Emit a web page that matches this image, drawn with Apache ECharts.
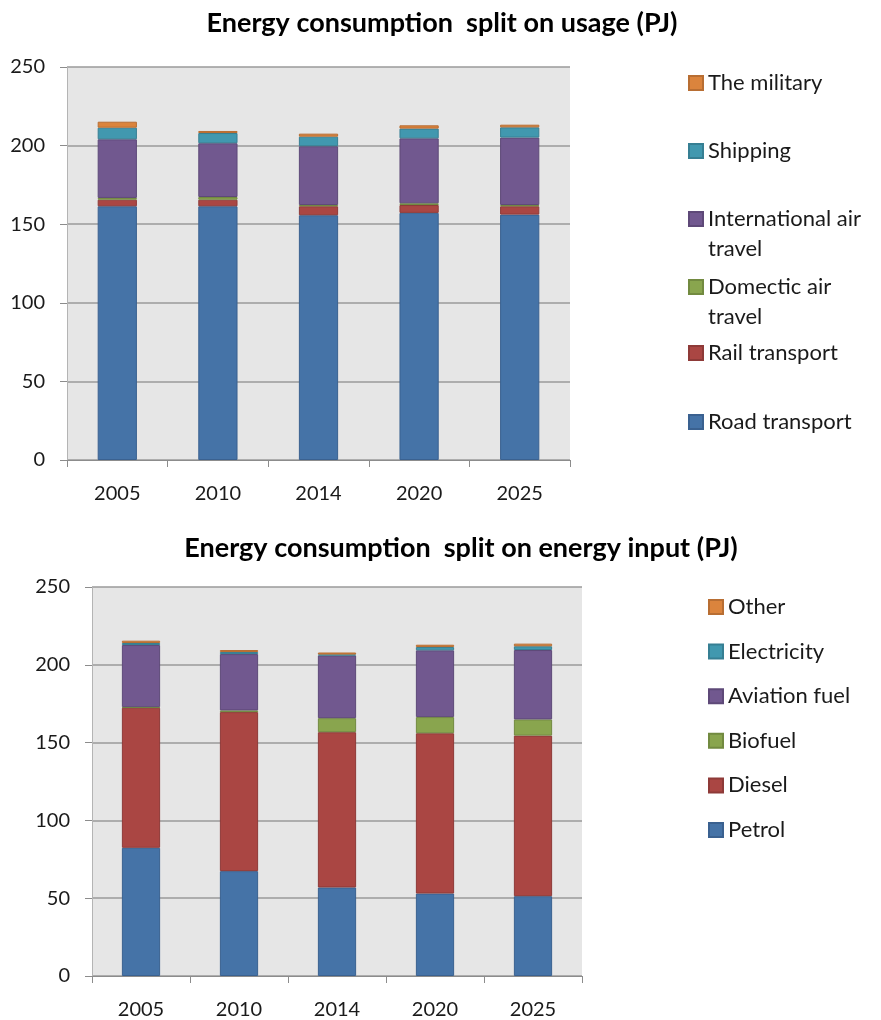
<!DOCTYPE html>
<html><head><meta charset="utf-8">
<script src="https://cdn.jsdelivr.net/npm/echarts@6/dist/echarts.min.js"></script>
<style>html,body{margin:0;padding:0;background:#fff}#c{width:881px;height:1020px}</style>
</head><body><div id="c"></div>
<script>
// ---- data ----
const years = ['2005', '2010', '2014', '2020', '2025'];
const yMin = 0, yMax = 250, yStep = 50;

const usageNames = ['Road transport', 'Rail transport', 'Domectic air travel', 'International air travel', 'Shipping', 'The military'];
const roadTransport    = [161.4, 161.4, 155.7, 157.2, 156.1];
const railTransport    = [4.2, 4.2, 5.7, 5.0, 5.3];
const domesticAir      = [1.1, 1.7, 0.8, 1.1, 0.8];
const internationalAir = [37.3, 34.2, 37.4, 41.3, 42.9];
const shipping         = [7.4, 6.5, 6.1, 6.2, 6.5];
const military         = [3.8, 1.3, 1.9, 2.1, 1.7];

const inputNames = ['Petrol', 'Diesel', 'Biofuel', 'Aviation fuel', 'Electricity', 'Other'];
const petrol       = [82.4, 67.4, 56.9, 53.0, 51.3];
const diesel       = [90.0, 102.2, 99.8, 103.0, 103.2];
const biofuel      = [0.4, 1.1, 9.0, 10.4, 10.4];
const aviationFuel = [39.9, 36.2, 40.3, 42.9, 44.6];
const electricity  = [1.3, 1.3, 0.6, 2.1, 2.4];
const otherInput   = [1.5, 1.3, 1.3, 1.5, 1.7];

const title1 = 'Energy consumption  split on usage (PJ)';
const title2 = 'Energy consumption  split on energy input (PJ)';

// ---- styling ----
const fills   = ['#4573a7', '#aa4643', '#89a54e', '#71588f', '#4198af', '#db843d'];
const borders = ['#3a6190', '#8e3a38', '#728a40', '#5e4978', '#367f93', '#b86e33'];
const FONT = 'Lato';

const usageData = [roadTransport, railTransport, domesticAir, internationalAir, shipping, military];
const inputData = [petrol, diesel, biofuel, aviationFuel, electricity, otherInput];

function mkSeries(names, datas, idx, stack) {
  return names.map((n, i) => ({
    name: n, type: 'bar', stack: stack, xAxisIndex: idx, yAxisIndex: idx,
    data: datas[i], barWidth: '39%',
    itemStyle: { color: fills[i], borderColor: borders[i], borderWidth: 1 },
    emphasis: { disabled: true }
  }));
}

function mkX(idx) {
  return {
    type: 'category', gridIndex: idx, data: years,
    axisLine: { lineStyle: { color: '#8c8c8c', width: 1 } },
    axisTick: { show: true, length: 7, lineStyle: { color: '#8c8c8c' } },
    axisLabel: { color: '#1a1a1a', fontFamily: FONT, fontSize: 20, margin: 24 }
  };
}
function mkY(idx) {
  return {
    type: 'value', gridIndex: idx, min: yMin, max: yMax, interval: yStep,
    axisLine: { show: true, lineStyle: { color: '#b4b4b4', width: 1 } },
    axisTick: { show: true, length: 7, lineStyle: { color: '#8c8c8c' } },
    axisLabel: { color: '#1a1a1a', fontFamily: FONT, fontSize: 20, margin: 22 },
    splitLine: { lineStyle: { color: '#9a9a9a', width: 1.5 } }
  };
}

const legendText = { fontFamily: FONT, fontSize: 22, color: '#1a1a1a', lineHeight: 26 };
function wrap(n) {
  // leading blank line keeps the icon level with the first text line
  if (n === 'International air travel') return ' \nInternational air\ntravel';
  if (n === 'Domectic air travel') return ' \nDomectic air\ntravel';
  return n;
}
// top legend: one component per item so spacing matches
const topLegendPos = { 'The military': 83, 'Shipping': 151, 'International air travel': 219, 'Domectic air travel': 287, 'Rail transport': 353, 'Road transport': 422 };
const legends = [];
usageNames.slice().reverse().forEach(n => {
  const multi = wrap(n) !== n;
  const cy = topLegendPos[n];
  legends.push({
    left: 688, top: multi ? cy - 45 : cy - 13, padding: 0, orient: 'vertical',
    itemWidth: 14, itemHeight: 14, itemGap: 0, selectedMode: false, icon: 'rect',
    data: [n], formatter: wrap,
    textStyle: multi ? Object.assign({}, legendText, { lineHeight: 30 }) : legendText
  });
});
legends.push({
  left: 708, top: 594, padding: 0, orient: 'vertical',
  itemWidth: 14, itemHeight: 14, itemGap: 18.6, selectedMode: false, icon: 'rect',
  data: inputNames.slice().reverse(),
  textStyle: legendText
});

const chart = echarts.init(document.getElementById('c'), null, { renderer: 'canvas' });
chart.setOption({
  animation: false,
  backgroundColor: '#ffffff',
  graphic: [
    { type: 'text', x: 442, y: 23, style: { text: title1, fill: '#000', font: 'bold 27px ' + FONT, textAlign: 'center', textVerticalAlign: 'middle' } },
    { type: 'text', x: 461, y: 548, style: { text: title2, fill: '#000', font: 'bold 27px ' + FONT, textAlign: 'center', textVerticalAlign: 'middle' } }
  ],
  grid: [
    { left: 67, top: 67, width: 503, height: 393, show: true, backgroundColor: '#e6e6e6', borderWidth: 0 },
    { left: 92, top: 587, width: 490, height: 389, show: true, backgroundColor: '#e6e6e6', borderWidth: 0 }
  ],
  xAxis: [mkX(0), mkX(1)],
  yAxis: [mkY(0), mkY(1)],
  legend: legends,
  series: mkSeries(usageNames, usageData, 0, 'usage').concat(mkSeries(inputNames, inputData, 1, 'input'))
});
</script></body></html>
